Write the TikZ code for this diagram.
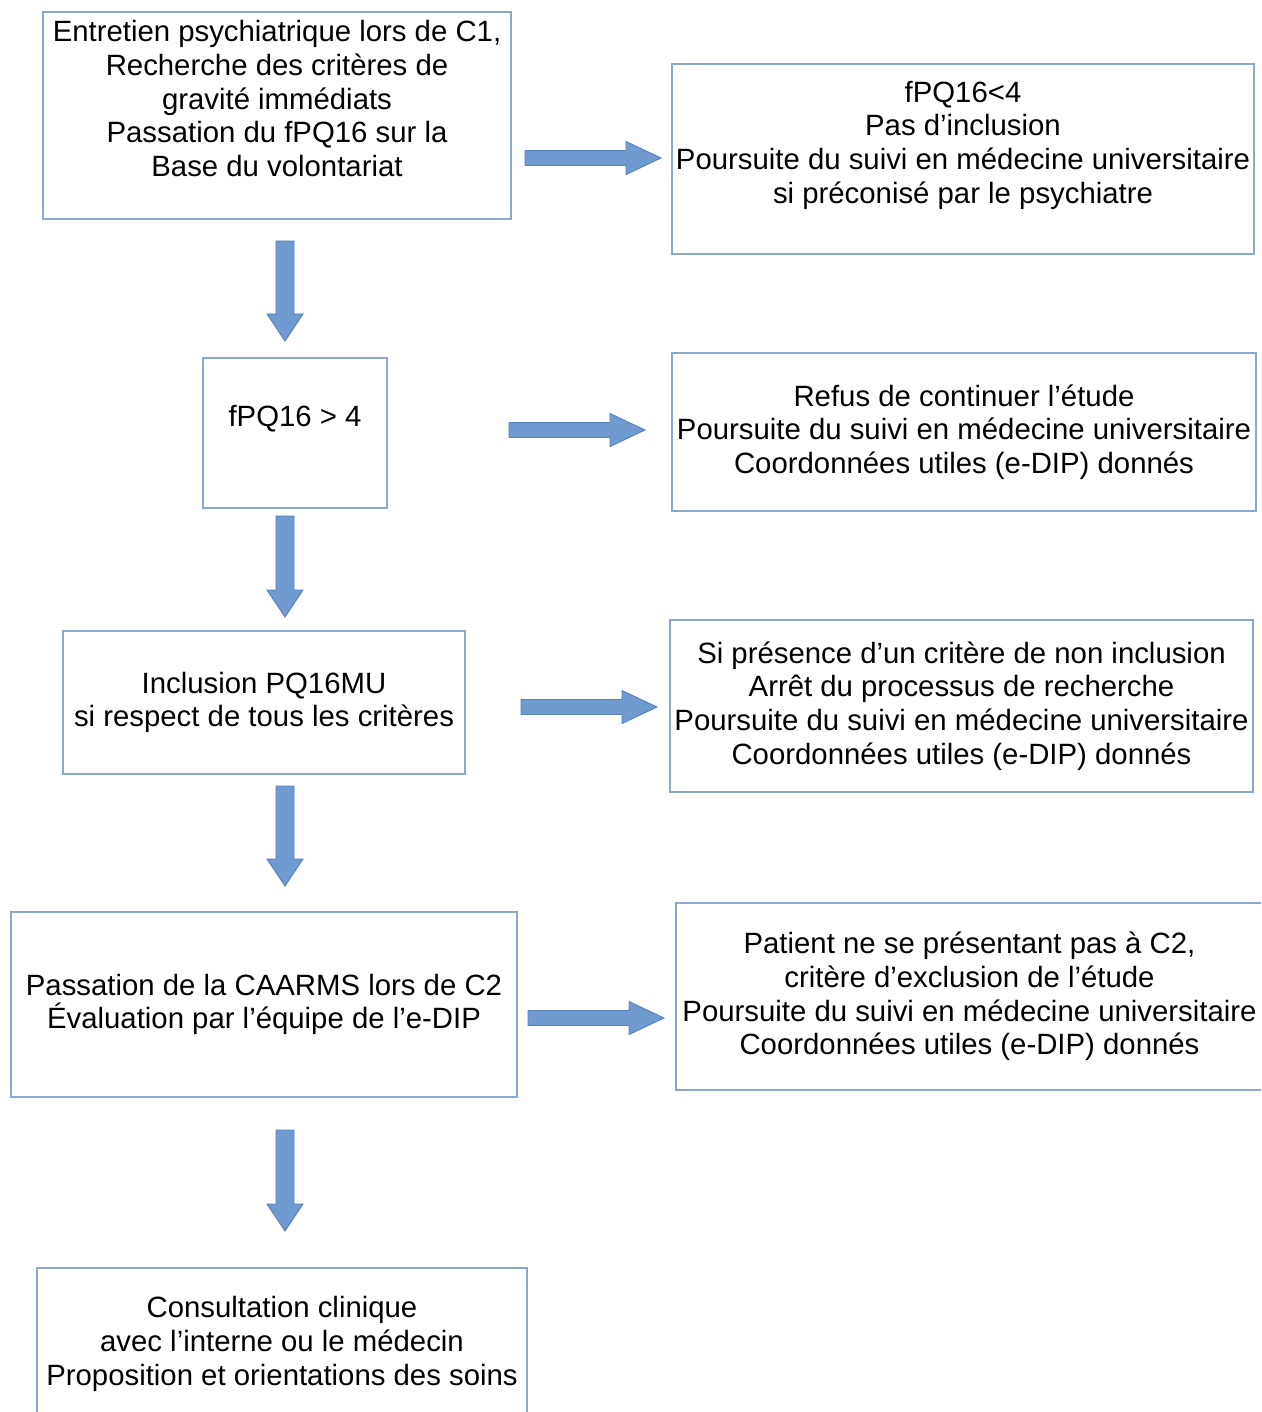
\documentclass[tikz,border=0pt]{standalone}
\usepackage{fontspec}
\setmainfont{Liberation Sans}
\usetikzlibrary{calc}

\definecolor{flecheBleu}{RGB}{112,155,208}
\definecolor{bordFleche}{RGB}{86,128,188}
\definecolor{bordBoite}{RGB}{140,168,208}

\tikzset{
	boite/.style={draw=bordBoite, line width=0.7pt, align=center, inner sep=0pt,
		font=\fontsize{16.7}{19.2}\selectfont},
	fleche/.style={fill=flecheBleu, draw=bordFleche, line width=0.5pt},
}

% fleche pleine horizontale (#1 -> #2)
\newcommand{\flecheDroite}[2]{%
	\filldraw[fleche] ($(#1)+(0,-7.5)$) -- ($(#2)+(-35,-7.5)$) -- ($(#2)+(-35,-16.5)$) -- (#2)
		-- ($(#2)+(-35,16.5)$) -- ($(#2)+(-35,7.5)$) -- ($(#1)+(0,7.5)$) -- cycle;}
% fleche pleine verticale (#1 -> #2)
\newcommand{\flecheBas}[2]{%
	\filldraw[fleche] ($(#1)+(-9,0)$) -- ($(#2)+(-9,-27)$) -- ($(#2)+(-18,-27)$) -- (#2)
		-- ($(#2)+(18,-27)$) -- ($(#2)+(9,-27)$) -- ($(#1)+(9,0)$) -- cycle;}

\begin{document}
\begin{tikzpicture}[x=0.02cm, y=-0.02cm]
	
	% cadre de la page
	\useasboundingbox (0,0) rectangle (1261,1412);
	\clip (0,0) rectangle (1261,1412);
	
	% colonne de gauche
	\node[boite, minimum width=9.36cm, minimum height=4.14cm] (entretien) at (277,115.5)
		{Entretien psychiatrique lors de C1,\\Recherche des critères de\\gravité immédiats\\Passation du fPQ16 sur la\\Base du volontariat\\\mbox{}};
	\node[boite, minimum width=3.68cm, minimum height=3.0cm] (score) at (295,433)
		{fPQ16 > 4\\\mbox{}};
	\node[boite, minimum width=8.04cm, minimum height=2.86cm] (inclusion) at (264,702.5)
		{Inclusion PQ16MU\\si respect de tous les critères};
	\node[boite, minimum width=10.12cm, minimum height=3.7cm] (caarms) at (264,1004.5)
		{Passation de la CAARMS lors de C2\\Évaluation par l’équipe de l’e-DIP};
	\node[boite, minimum width=9.8cm, minimum height=3.04cm] (consult) at (282,1344)
		{Consultation clinique\\avec l’interne ou le médecin\\Proposition et orientations des soins};
	
	% colonne de droite
	\node[boite, minimum width=11.64cm, minimum height=3.8cm] (nonincl) at (963,159)
		{fPQ16<4\\Pas d’inclusion\\Poursuite du suivi en médecine universitaire\\si préconisé par le psychiatre\\\mbox{}};
	\node[boite, minimum width=11.68cm, minimum height=3.16cm] (refus) at (964,432)
		{Refus de continuer l’étude\\Poursuite du suivi en médecine universitaire\\Coordonnées utiles (e-DIP) donnés};
	\node[boite, minimum width=11.66cm, minimum height=3.44cm] (arret) at (961.5,706)
		{Si présence d’un critère de non inclusion\\Arrêt du processus de recherche\\Poursuite du suivi en médecine universitaire\\Coordonnées utiles (e-DIP) donnés};
	\node[boite, minimum width=11.74cm, minimum height=3.74cm] (absent) at (969.5,996.5)
		{Patient ne se présentant pas à C2,\\critère d’exclusion de l’étude\\Poursuite du suivi en médecine universitaire\\Coordonnées utiles (e-DIP) donnés};
	
	% extremites des fleches
	\coordinate (d1) at (525,158);  \coordinate (f1) at (661,158);
	\coordinate (d2) at (509,430);  \coordinate (f2) at (645,430);
	\coordinate (d3) at (521,707);  \coordinate (f3) at (657,707);
	\coordinate (d4) at (528,1018); \coordinate (f4) at (664,1018);
	\coordinate (h1) at (285,241);  \coordinate (b1) at (285,341);
	\coordinate (h2) at (285,516);  \coordinate (b2) at (285,617);
	\coordinate (h3) at (285,786);  \coordinate (b3) at (285,886);
	\coordinate (h4) at (285,1130); \coordinate (b4) at (285,1231);
	
	% fleches
	\flecheDroite{d1}{f1}
	\flecheDroite{d2}{f2}
	\flecheDroite{d3}{f3}
	\flecheDroite{d4}{f4}
	\flecheBas{h1}{b1}
	\flecheBas{h2}{b2}
	\flecheBas{h3}{b3}
	\flecheBas{h4}{b4}
	
\end{tikzpicture}
\end{document}
